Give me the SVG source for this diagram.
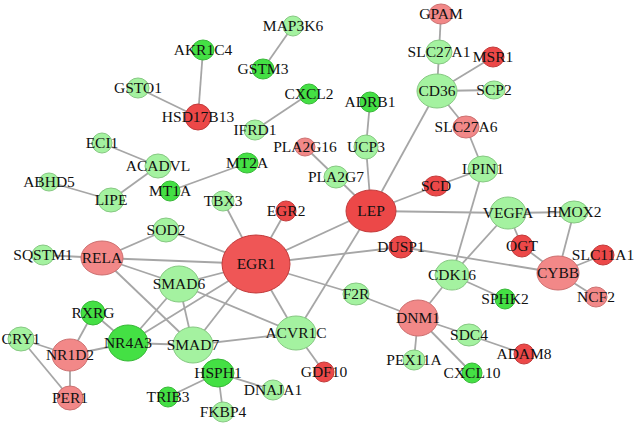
<svg xmlns="http://www.w3.org/2000/svg" width="640" height="424" viewBox="0 0 640 424">
<style>
.e line{stroke:#a6a6a6;stroke-width:1.8}
.r{fill:#ec4848;stroke:#c23a3a;stroke-width:1}
.lr{fill:#f28888;stroke:#cc7070;stroke-width:1}
.g{fill:#44e044;stroke:#38b838;stroke-width:1}
.lg{fill:#a4f2a0;stroke:#86c882;stroke-width:1}
text{font-family:"Liberation Serif","Times New Roman",serif;font-size:15.5px;fill:#111;text-anchor:middle}
</style>
<rect width="640" height="424" fill="#fff"/>
<g class="e" id="edges">
<line x1="441" y1="14" x2="439" y2="52"/>
<line x1="439" y1="52" x2="437" y2="91"/>
<line x1="437" y1="91" x2="493" y2="57"/>
<line x1="437" y1="91" x2="494" y2="90"/>
<line x1="437" y1="91" x2="466" y2="127"/>
<line x1="437" y1="91" x2="371" y2="211"/>
<line x1="466" y1="127" x2="483" y2="169"/>
<line x1="370" y1="102" x2="366" y2="147"/>
<line x1="366" y1="147" x2="371" y2="211"/>
<line x1="305" y1="147" x2="336" y2="177"/>
<line x1="336" y1="177" x2="371" y2="211"/>
<line x1="371" y1="211" x2="436" y2="186"/>
<line x1="436" y1="186" x2="483" y2="169"/>
<line x1="483" y1="169" x2="452" y2="275"/>
<line x1="371" y1="211" x2="508" y2="213"/>
<line x1="508" y1="213" x2="574" y2="212"/>
<line x1="508" y1="213" x2="522" y2="246"/>
<line x1="508" y1="213" x2="452" y2="275"/>
<line x1="522" y1="246" x2="558" y2="273"/>
<line x1="574" y1="212" x2="558" y2="273"/>
<line x1="558" y1="273" x2="603" y2="255"/>
<line x1="558" y1="273" x2="596" y2="297"/>
<line x1="401" y1="247" x2="558" y2="273"/>
<line x1="256" y1="264" x2="401" y2="247"/>
<line x1="371" y1="211" x2="256" y2="264"/>
<line x1="371" y1="211" x2="296" y2="333"/>
<line x1="452" y1="275" x2="418" y2="318"/>
<line x1="452" y1="275" x2="505" y2="299"/>
<line x1="418" y1="318" x2="356" y2="294"/>
<line x1="356" y1="294" x2="256" y2="264"/>
<line x1="418" y1="318" x2="469" y2="335"/>
<line x1="418" y1="318" x2="414" y2="360"/>
<line x1="418" y1="318" x2="472" y2="373"/>
<line x1="469" y1="335" x2="524" y2="354"/>
<line x1="296" y1="333" x2="324" y2="372"/>
<line x1="256" y1="264" x2="296" y2="333"/>
<line x1="256" y1="264" x2="223" y2="201"/>
<line x1="256" y1="264" x2="286" y2="211"/>
<line x1="256" y1="264" x2="166" y2="230"/>
<line x1="256" y1="264" x2="102" y2="258"/>
<line x1="256" y1="264" x2="179" y2="284"/>
<line x1="256" y1="264" x2="193" y2="345"/>
<line x1="256" y1="264" x2="128" y2="343"/>
<line x1="166" y1="230" x2="102" y2="258"/>
<line x1="102" y1="258" x2="43" y2="255"/>
<line x1="102" y1="258" x2="179" y2="284"/>
<line x1="102" y1="258" x2="193" y2="345"/>
<line x1="179" y1="284" x2="193" y2="345"/>
<line x1="179" y1="284" x2="128" y2="343"/>
<line x1="179" y1="284" x2="296" y2="333"/>
<line x1="193" y1="345" x2="128" y2="343"/>
<line x1="193" y1="345" x2="296" y2="333"/>
<line x1="93" y1="313" x2="70" y2="355"/>
<line x1="93" y1="313" x2="128" y2="343"/>
<line x1="70" y1="355" x2="128" y2="343"/>
<line x1="21" y1="339" x2="70" y2="355"/>
<line x1="21" y1="339" x2="70" y2="398"/>
<line x1="70" y1="355" x2="70" y2="398"/>
<line x1="218" y1="373" x2="168" y2="397"/>
<line x1="218" y1="373" x2="273" y2="390"/>
<line x1="218" y1="373" x2="223" y2="412"/>
<line x1="293" y1="26" x2="263" y2="69"/>
<line x1="203" y1="50" x2="198" y2="117"/>
<line x1="138" y1="88" x2="198" y2="117"/>
<line x1="309" y1="94" x2="255" y2="130"/>
<line x1="102" y1="143" x2="158" y2="166"/>
<line x1="158" y1="166" x2="111" y2="200"/>
<line x1="49" y1="182" x2="111" y2="200"/>
<line x1="247" y1="163" x2="170" y2="191"/>
</g>
<g id="GPAM"><ellipse class="lr" cx="441" cy="14" rx="12" ry="10"/><text x="441" y="19">GPAM</text></g>
<g id="SLC27A1"><ellipse class="lg" cx="439" cy="52" rx="13" ry="12"/><text x="439" y="57">SLC27A1</text></g>
<g id="MSR1"><ellipse class="r" cx="493" cy="57" rx="11" ry="10"/><text x="493" y="62">MSR1</text></g>
<g id="CD36"><ellipse class="lg" cx="437" cy="91" rx="20" ry="17"/><text x="437" y="96">CD36</text></g>
<g id="SCP2"><ellipse class="lg" cx="494" cy="90" rx="11" ry="9"/><text x="494" y="95">SCP2</text></g>
<g id="SLC27A6"><ellipse class="lr" cx="466" cy="127" rx="13" ry="11"/><text x="466" y="132">SLC27A6</text></g>
<g id="ADRB1"><ellipse class="g" cx="370" cy="102" rx="10" ry="10"/><text x="370" y="107">ADRB1</text></g>
<g id="UCP3"><ellipse class="lg" cx="366" cy="147" rx="12" ry="12"/><text x="366" y="152">UCP3</text></g>
<g id="PLA2G16"><ellipse class="lr" cx="305" cy="147" rx="10" ry="9"/><text x="305" y="152">PLA2G16</text></g>
<g id="PLA2G7"><ellipse class="lg" cx="336" cy="177" rx="12" ry="11"/><text x="336" y="182">PLA2G7</text></g>
<g id="LEP"><ellipse class="r" cx="371" cy="211" rx="25" ry="21"/><text x="371" y="216">LEP</text></g>
<g id="SCD"><ellipse class="r" cx="436" cy="186" rx="12" ry="10"/><text x="436" y="191">SCD</text></g>
<g id="LPIN1"><ellipse class="lg" cx="483" cy="169" rx="15" ry="13"/><text x="483" y="174">LPIN1</text></g>
<g id="VEGFA"><ellipse class="lg" cx="508" cy="213" rx="18" ry="16"/><text x="508" y="218">VEGFA</text></g>
<g id="HMOX2"><ellipse class="lg" cx="574" cy="212" rx="14" ry="11"/><text x="574" y="217">HMOX2</text></g>
<g id="OGT"><ellipse class="r" cx="522" cy="246" rx="11" ry="11"/><text x="522" y="251">OGT</text></g>
<g id="SLC11A1"><ellipse class="r" cx="603" cy="255" rx="11" ry="10"/><text x="603" y="260">SLC11A1</text></g>
<g id="CYBB"><ellipse class="lr" cx="558" cy="273" rx="21" ry="17"/><text x="558" y="278">CYBB</text></g>
<g id="NCF2"><ellipse class="lr" cx="596" cy="297" rx="11" ry="10"/><text x="596" y="302">NCF2</text></g>
<g id="DUSP1"><ellipse class="r" cx="401" cy="247" rx="12" ry="11"/><text x="401" y="252">DUSP1</text></g>
<g id="CDK16"><ellipse class="lg" cx="452" cy="275" rx="17" ry="15"/><text x="452" y="280">CDK16</text></g>
<g id="SPHK2"><ellipse class="g" cx="505" cy="299" rx="10" ry="10"/><text x="505" y="304">SPHK2</text></g>
<g id="DNM1"><ellipse class="lr" cx="418" cy="318" rx="20" ry="18"/><text x="418" y="323">DNM1</text></g>
<g id="F2R"><ellipse class="lg" cx="356" cy="294" rx="13" ry="11"/><text x="356" y="299">F2R</text></g>
<g id="SDC4"><ellipse class="lg" cx="469" cy="335" rx="13" ry="11"/><text x="469" y="340">SDC4</text></g>
<g id="ADAM8"><ellipse class="r" cx="524" cy="354" rx="10" ry="10"/><text x="524" y="359">ADAM8</text></g>
<g id="PEX11A"><ellipse class="lg" cx="414" cy="360" rx="11" ry="10"/><text x="414" y="365">PEX11A</text></g>
<g id="CXCL10"><ellipse class="g" cx="472" cy="373" rx="10" ry="10"/><text x="472" y="378">CXCL10</text></g>
<g id="GDF10"><ellipse class="r" cx="324" cy="372" rx="10" ry="10"/><text x="324" y="377">GDF10</text></g>
<g id="ACVR1C"><ellipse class="lg" cx="296" cy="333" rx="20" ry="17"/><text x="296" y="338">ACVR1C</text></g>
<g id="EGR1"><ellipse class="r" cx="256" cy="264" rx="34" ry="29" style="fill:#ef5656"/><text x="256" y="269">EGR1</text></g>
<g id="EGR2"><ellipse class="r" cx="286" cy="211" rx="10" ry="10"/><text x="286" y="216">EGR2</text></g>
<g id="TBX3"><ellipse class="lg" cx="223" cy="201" rx="11" ry="10"/><text x="223" y="206">TBX3</text></g>
<g id="SOD2"><ellipse class="lg" cx="166" cy="230" rx="13" ry="12"/><text x="166" y="235">SOD2</text></g>
<g id="RELA"><ellipse class="lr" cx="102" cy="258" rx="21" ry="17"/><text x="102" y="263">RELA</text></g>
<g id="SQSTM1"><ellipse class="lg" cx="43" cy="255" rx="11" ry="10"/><text x="43" y="260">SQSTM1</text></g>
<g id="SMAD6"><ellipse class="lg" cx="179" cy="284" rx="20" ry="18"/><text x="179" y="289">SMAD6</text></g>
<g id="SMAD7"><ellipse class="lg" cx="193" cy="345" rx="20" ry="18"/><text x="193" y="350">SMAD7</text></g>
<g id="NR4A3"><ellipse class="g" cx="128" cy="343" rx="20" ry="18"/><text x="128" y="348">NR4A3</text></g>
<g id="RXRG"><ellipse class="g" cx="93" cy="313" rx="12" ry="12"/><text x="93" y="318">RXRG</text></g>
<g id="CRY1"><ellipse class="lg" cx="21" cy="339" rx="13" ry="12"/><text x="21" y="344">CRY1</text></g>
<g id="NR1D2"><ellipse class="lr" cx="70" cy="355" rx="18" ry="16"/><text x="70" y="360">NR1D2</text></g>
<g id="PER1"><ellipse class="lr" cx="70" cy="398" rx="13" ry="12"/><text x="70" y="403">PER1</text></g>
<g id="HSPH1"><ellipse class="g" cx="218" cy="373" rx="16" ry="14"/><text x="218" y="378">HSPH1</text></g>
<g id="TRIB3"><ellipse class="g" cx="168" cy="397" rx="10" ry="10"/><text x="168" y="402">TRIB3</text></g>
<g id="FKBP4"><ellipse class="lg" cx="223" cy="412" rx="11" ry="10"/><text x="223" y="417">FKBP4</text></g>
<g id="DNAJA1"><ellipse class="lg" cx="273" cy="390" rx="11" ry="10"/><text x="273" y="395">DNAJA1</text></g>
<g id="MAP3K6"><ellipse class="lg" cx="293" cy="26" rx="10" ry="10"/><text x="293" y="31">MAP3K6</text></g>
<g id="AKR1C4"><ellipse class="g" cx="203" cy="50" rx="11" ry="10"/><text x="203" y="55">AKR1C4</text></g>
<g id="GSTM3"><ellipse class="g" cx="263" cy="69" rx="11" ry="10"/><text x="263" y="74">GSTM3</text></g>
<g id="GSTO1"><ellipse class="lg" cx="138" cy="88" rx="11" ry="10"/><text x="138" y="93">GSTO1</text></g>
<g id="HSD17B13"><ellipse class="r" cx="198" cy="117" rx="13" ry="13"/><text x="198" y="122">HSD17B13</text></g>
<g id="CXCL2"><ellipse class="g" cx="309" cy="94" rx="10" ry="10"/><text x="309" y="99">CXCL2</text></g>
<g id="IFRD1"><ellipse class="lg" cx="255" cy="130" rx="11" ry="10"/><text x="255" y="135">IFRD1</text></g>
<g id="ECI1"><ellipse class="lg" cx="102" cy="143" rx="10" ry="10"/><text x="102" y="148">ECI1</text></g>
<g id="ACADVL"><ellipse class="lg" cx="158" cy="166" rx="13" ry="12"/><text x="158" y="171">ACADVL</text></g>
<g id="MT2A"><ellipse class="g" cx="247" cy="163" rx="11" ry="10"/><text x="247" y="168">MT2A</text></g>
<g id="MT1A"><ellipse class="g" cx="170" cy="191" rx="10" ry="10"/><text x="170" y="196">MT1A</text></g>
<g id="ABHD5"><ellipse class="lg" cx="49" cy="182" rx="10" ry="9"/><text x="49" y="187">ABHD5</text></g>
<g id="LIPE"><ellipse class="lg" cx="111" cy="200" rx="13" ry="12"/><text x="111" y="205">LIPE</text></g>
</svg>
